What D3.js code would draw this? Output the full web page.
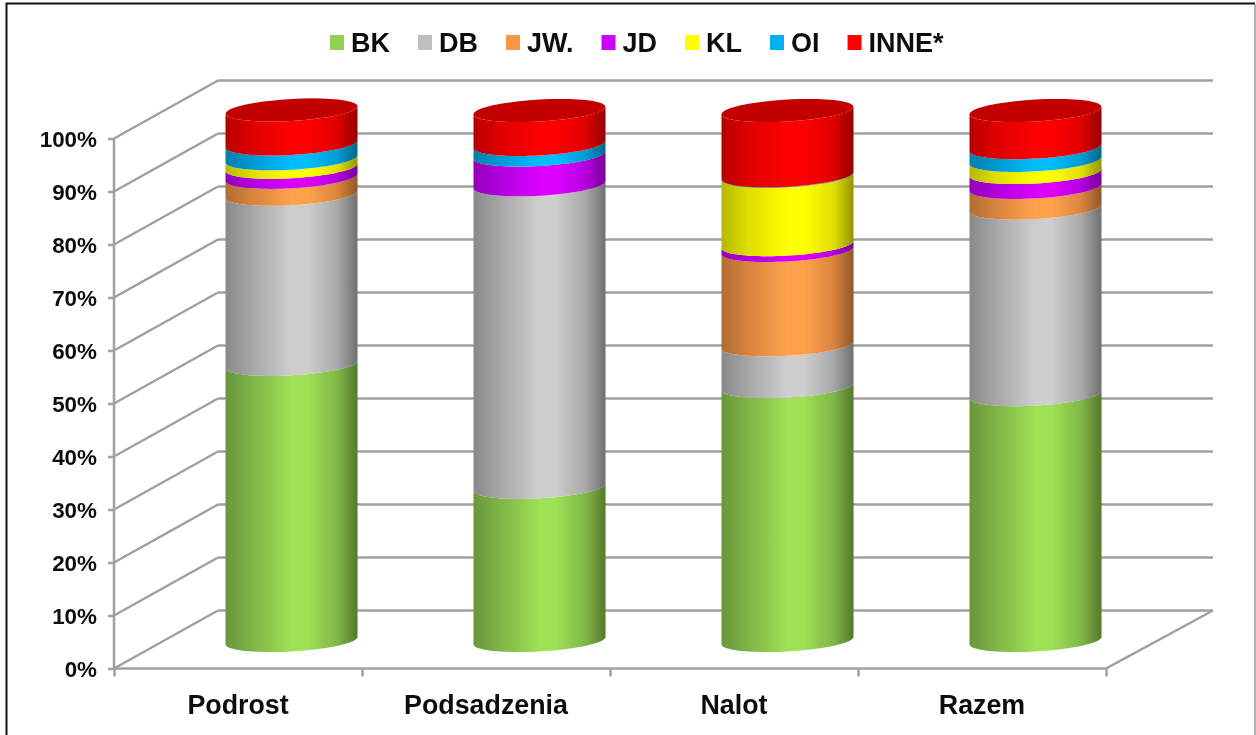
<!DOCTYPE html>
<html>
<head>
<meta charset="utf-8" />
<title>Udzial gatunkow</title>
<script src="https://d3js.org/d3.v7.min.js"></script>
<style>
  html, body { margin: 0; background: #fff; }
  svg { display: block; }
  text { font-family: "Liberation Sans", Arial, sans-serif; font-weight: bold; fill: #111; }
  .axis path { display: none; }
  .axis line, .wall { stroke: #a0a0a0; stroke-width: 2.5; fill: none; }
</style>
</head>
<body>
<svg id="chart" width="1256" height="735"></svg>
<script>
// values, % of each stack
var categories = ["Podrost", "Podsadzenia", "Nalot", "Razem"];
var species = ["BK", "DB", "JW.", "JD", "KL", "OI", "INNE*"];
var colors = ["#92d050", "#bfbfbf", "#f79646", "#cc00ff", "#ffff00", "#00b0f0", "#ff0000"];

var BK = [52.1, 28.9, 47.9, 46.4];
var DB = [32.1, 57.1, 7.9, 35.2];
var JW = [3.2, 0, 17.8, 3.9];
var JD = [1.9, 5.6, 1.1, 2.8];
var KL = [1.6, 0, 12.9, 2.3];
var OI = [2.8, 2.0, 0.1, 2.4];
var INNE = [6.4, 6.4, 12.3, 7.0];
var seriesValues = [BK, DB, JW, JD, KL, OI, INNE];

var yTicks = [0, 10, 20, 30, 40, 50, 60, 70, 80, 90, 100];

var svg = d3.select("#chart");
var width = 1256, height = 735;

// chart box: front plane + how far the back wall sits from it
var left = 114, right = 1106, bottom = 668.5, top_ = 138.5;
var depthX = 104, depthY = -58;

var y = d3.scaleLinear().domain([0, 100]).range([bottom, top_]);
var x = d3.scaleBand().domain(categories).range([left, right]);
var xEdge = d3.scaleLinear().domain([0, categories.length]).range([left, right]);

// frame of the picture
svg.append("rect").attr("width", width).attr("height", height).attr("fill", "#fff");
svg.append("path").attr("d", "M6.5,735V3.5H1255").attr("fill", "none").attr("stroke", "#111").attr("stroke-width", 2);
svg.append("line").attr("x1", 1255).attr("x2", 1255).attr("y1", 4).attr("y2", 735)
    .attr("stroke", "#999").attr("stroke-width", 1.5);

var soft = svg.append("defs").append("filter").attr("id", "soft")
    .attr("x", "-5%").attr("y", "-5%").attr("width", "110%").attr("height", "110%");
soft.append("feGaussianBlur").attr("stdDeviation", 0.55);

var defs = svg.select("defs");
// cylinder shading, left to right
var shade = [[0, 0.72], [0.2, 0.87], [0.5, 1.08], [0.62, 1.08], [0.85, 0.88], [1, 0.58]];
species.forEach(function(s, i) {
    var g = defs.append("linearGradient").attr("id", "grad" + i);
    shade.forEach(function(st) {
        var c = d3.rgb(colors[i]);
        g.append("stop").attr("offset", st[0])
            .attr("stop-color", d3.rgb(c.r * st[1], c.g * st[1], c.b * st[1]).clamp().formatHex());
    });
});

var plot = svg.append("g").attr("filter", "url(#soft)");

// walls
plot.selectAll("line.grid").data(yTicks).join("line")
    .attr("class", "wall")
    .attr("x1", left + depthX).attr("x2", right + depthX + 3)
    .attr("y1", function(d) { return y(d) + depthY; })
    .attr("y2", function(d) { return y(d) + depthY; });
plot.selectAll("line.diag").data(yTicks).join("line")
    .attr("class", "wall")
    .attr("x1", left).attr("x2", left + depthX)
    .attr("y1", function(d) { return y(d); })
    .attr("y2", function(d) { return y(d) + depthY; });
plot.append("line").attr("class", "wall")
    .attr("x1", right).attr("x2", right + depthX + 3)
    .attr("y1", y(0)).attr("y2", y(0) + depthY);

// axes
var yAxis = d3.axisLeft(y).tickValues(yTicks).tickSize(6).tickPadding(11)
    .tickFormat(function(d) { return d + "%"; });
plot.append("g").attr("class", "axis").attr("transform", "translate(" + left + ",0)").call(yAxis)
    .call(function(g) { g.selectAll("text").style("font-size", "22.4px").attr("dy", "0.34em"); });
plot.append("line").attr("class", "wall").attr("x1", left).attr("x2", left).attr("y1", y(100)).attr("y2", y(0));

var xTicks = d3.axisBottom(xEdge).ticks(categories.length).tickSize(8).tickFormat("");
plot.append("g").attr("class", "axis").attr("transform", "translate(0," + bottom + ")").call(xTicks);
plot.append("line").attr("class", "wall").attr("x1", left).attr("x2", right).attr("y1", bottom).attr("y2", bottom);

var xAxis = d3.axisBottom(x).tickSize(0).tickPadding(26);
plot.append("g").attr("class", "axis labels").attr("transform", "translate(0," + bottom + ")").call(xAxis)
    .call(function(g) { g.selectAll("text").style("font-size", "26.8px"); });

// cylinders: sheared ellipse for every band edge
var rx = 66, ry = 11, tilt = 3.7;
var shiftX = 53.5, shiftY = -28;

function rim(cx, cy, from, to) {
    return d3.range(0, 41).map(function(i) {
        var t = from + (to - from) * i / 40;
        return [cx + rx * Math.cos(t), cy + ry * Math.sin(t) - tilt * Math.cos(t)];
    });
}
var line = d3.line();

categories.forEach(function(cat, c) {
    var cx = x(cat) + x.bandwidth() / 2 + shiftX;
    var sum = 0;
    var col = plot.append("g");
    seriesValues.forEach(function(vals, s) {
        var v = vals[c];
        var y0 = y(sum) + shiftY, y1 = y(sum + v) + shiftY;
        sum += v;
        if (v <= 0) return;
        // lower front edge left to right, upper front edge back again
        var pts = rim(cx, y0, Math.PI, 0).concat(rim(cx, y1, 0, Math.PI));
        col.append("path").attr("d", line(pts) + "Z").attr("fill", "url(#grad" + s + ")");
    });
    var topY = y(sum) + shiftY;
    col.append("path").attr("d", line(rim(cx, topY, 0, 2 * Math.PI)) + "Z").attr("fill", "#c30000");
});

// legend
var legendX = 330;
var legend = plot.append("g");
species.forEach(function(s, i) {
    legend.append("rect").attr("x", legendX).attr("y", 35).attr("width", 14).attr("height", 15).attr("fill", colors[i]);
    var t = legend.append("text").attr("x", legendX + 21).attr("y", 52).style("font-size", "27px").text(s);
    legendX += 21 + t.node().getComputedTextLength() + 28;
});
</script>
</body>
</html>
